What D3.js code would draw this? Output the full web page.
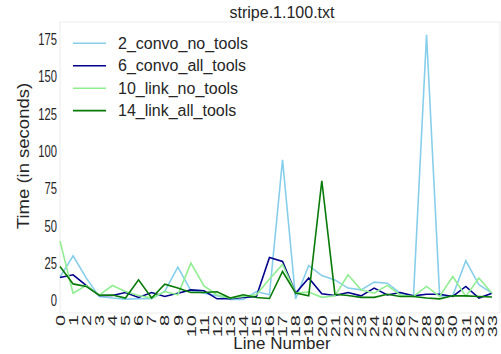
<!DOCTYPE html>
<html>
<head>
<meta charset="utf-8">
<script src="https://cdn.jsdelivr.net/npm/d3@7"></script>
<style>
  html, body { margin: 0; padding: 0; background: #fff; }
  svg { display: block; font-family: "Liberation Sans", Arial, sans-serif; }
</style>
</head>
<body>
<svg id="chart" width="501" height="354"></svg>
<script>
// Run times per input line for four tool configurations
const lineNumbers = d3.range(0, 34);
const convoNoTools = [15.5, 29.8, 15, 2.5, 1.5, 0.8, 1, 1, 6, 22.2, 6.5, 4.8, 3, 0.5, 0.5, 5.9, 3.7, 94.2, 1, 23.3, 16.6, 13.7, 8.2, 7, 12.2, 11.5, 4.8, 2.6, 178, 3, 3, 26.5, 10.4, 4.8];
const convoAllTools = [15.3, 17.1, 10, 3.2, 3.2, 5.2, 1.9, 5.2, 2.6, 4.8, 7, 6.4, 1, 1, 2, 2.6, 28.7, 26, 4.8, 14.9, 4.4, 3.2, 5.2, 3, 8.2, 3.6, 5.2, 3, 4.1, 4.1, 2.6, 9.3, 1.5, 4.8];
const linkNoTools = [39.7, 4.8, 10, 3.5, 9.9, 5.9, 3.2, 1.5, 5.9, 3.7, 24.9, 9.7, 3.6, 1.5, 2.6, 3.7, 14.3, 24, 4.8, 5.5, 2, 3, 17.1, 7, 4.8, 10, 3.6, 2.6, 9.3, 2.6, 16, 2.6, 14.9, 4.8];
const linkAllTools = [22.7, 11, 9.3, 3.4, 3.6, 1.5, 13.7, 1.5, 10.8, 8.2, 5.2, 5.2, 5.7, 1.5, 3.7, 1.9, 1.2, 19.3, 4.8, 3, 80.1, 4.1, 3.2, 2, 2, 4.1, 2.6, 2.6, 1.5, 1, 3, 3, 2.6, 2.2];
const seriesNames = ["2_convo_no_tools", "6_convo_all_tools", "10_link_no_tools", "14_link_all_tools"];
const seriesColors = ["#87ceeb", "#00008b", "#90ee90", "#087a08"];
const yTicks = [0, 25, 50, 75, 100, 125, 150, 175];

const series = [convoNoTools, convoAllTools, linkNoTools, linkAllTools];
const textColor = "#262626";

const svg = d3.select("#chart");
const frame = { left: 60, right: 500, top: 22, bottom: 313 };

const x = d3.scaleLinear().domain([0, 33]).range([frame.left, 492]);
const y = d3.scaleLinear().domain([-8.5, 186.5]).range([frame.bottom, frame.top]);

// plot frame
svg.append("rect")
  .attr("x", frame.left).attr("y", frame.top)
  .attr("width", frame.right - frame.left).attr("height", frame.bottom - frame.top)
  .attr("fill", "#fff").attr("stroke", "#ebebeb").attr("stroke-width", 1);

// y axis (narrowed tick labels)
const yAxis = svg.append("g")
  .attr("transform", `translate(${frame.left},0)`)
  .call(d3.axisLeft(y).tickValues(yTicks).tickSize(0));
yAxis.select(".domain").remove();
yAxis.selectAll("text")
  .attr("fill", textColor)
  .style("font-size", "17px")
  .attr("x", 0)
  .attr("transform", "translate(-3,0) scale(0.66,1)");

// x axis with rotated labels
const xAxis = svg.append("g")
  .attr("transform", `translate(0,${frame.bottom})`)
  .call(d3.axisBottom(x).tickValues(lineNumbers).tickSize(0).tickFormat(d3.format("d")));
xAxis.select(".domain").remove();
xAxis.selectAll("text")
  .attr("fill", textColor)
  .style("font-size", "20px")
  .attr("text-anchor", "end")
  .attr("x", 0).attr("y", 0).attr("dy", "0.35em")
  .attr("transform", "translate(0,2) scale(0.6,1) rotate(-90)");

// series lines
const line = d3.line().x((d, i) => x(lineNumbers[i])).y(d => y(d));
series.forEach((vals, k) => {
  svg.append("path")
    .datum(vals)
    .attr("fill", "none")
    .attr("stroke", seriesColors[k])
    .attr("stroke-width", 1.6)
    .attr("stroke-linejoin", "miter")
    .attr("d", line);
});

// legend
const legend = svg.append("g");
seriesNames.forEach((name, k) => {
  const ly = 43.3 + k * 22.45;
  legend.append("line")
    .attr("x1", 73).attr("x2", 106).attr("y1", ly).attr("y2", ly)
    .attr("stroke", seriesColors[k]).attr("stroke-width", 1.6);
  legend.append("text")
    .attr("x", 118).attr("y", ly).attr("dy", "0.35em")
    .attr("fill", textColor).style("font-size", "16px")
    .text(name);
});

// title and axis labels
svg.append("text")
  .attr("x", 282).attr("y", 18)
  .attr("text-anchor", "middle").attr("fill", textColor)
  .style("font-size", "16px")
  .text("stripe.1.100.txt");

svg.append("text")
  .attr("transform", "translate(29,156) scale(0.92,1) rotate(-90)")
  .attr("text-anchor", "middle").attr("fill", textColor)
  .style("font-size", "18.5px")
  .text("Time (in seconds)");

svg.append("text")
  .attr("x", 282).attr("y", 349)
  .attr("text-anchor", "middle").attr("fill", textColor)
  .style("font-size", "17px")
  .text("Line Number");
</script>
</body>
</html>
